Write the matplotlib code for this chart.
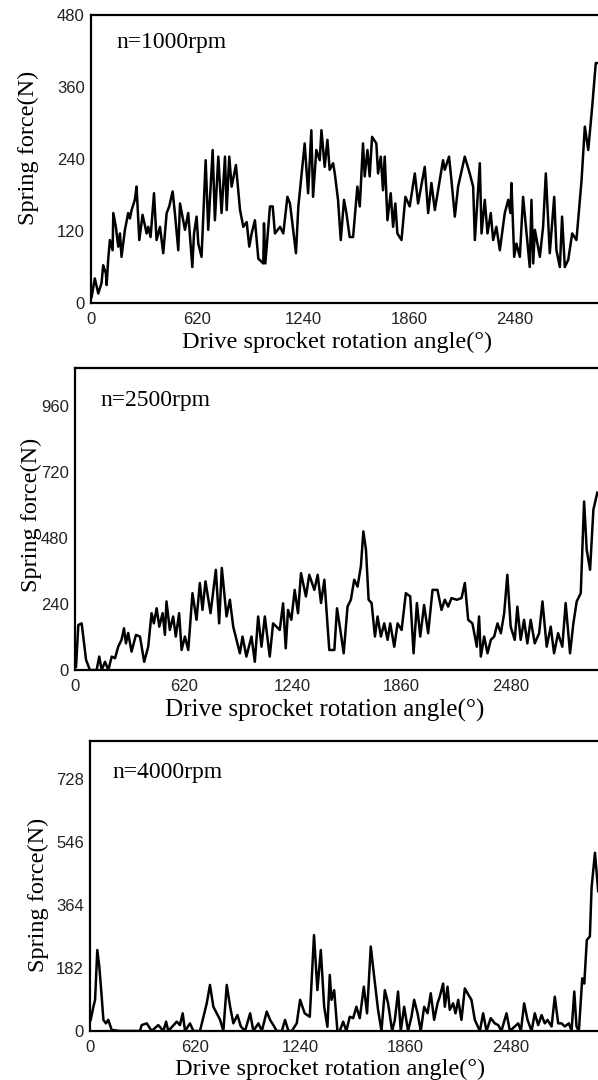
import matplotlib
matplotlib.use('Agg')
import matplotlib.pyplot as plt

# ---------------------------------------------------------------------------
# Data (angle in degrees, spring force in N)
# ---------------------------------------------------------------------------
angle_1000 = [4, 23, 43, 62, 72, 88, 92, 101, 111, 127, 131, 146, 160, 170, 179,
              199, 218, 228, 238, 257, 267, 283, 302, 326, 335, 349, 369, 384,
              404, 423, 443, 458, 478, 491, 511, 521, 550, 569, 593, 603, 618,
              628, 647, 671, 686, 712, 725, 745, 764, 784, 794, 809, 823, 848,
              872, 891, 911, 926, 940, 959, 979, 1008, 1012, 1020, 1047, 1063,
              1076, 1106, 1125, 1149, 1164, 1199, 1213, 1250, 1270, 1289, 1299,
              1318, 1338, 1348, 1367, 1383, 1396, 1416, 1426, 1445, 1461, 1480,
              1494, 1513, 1533, 1558, 1572, 1591, 1601, 1617, 1630, 1644, 1669,
              1679, 1695, 1708, 1718, 1734, 1753, 1767, 1780, 1792, 1816, 1839,
              1864, 1894, 1913, 1952, 1972, 1991, 2011, 2040, 2059, 2069, 2094,
              2108, 2128, 2147, 2186, 2215, 2235, 2245, 2274, 2284, 2303, 2319,
              2338, 2352, 2371, 2391, 2420, 2440, 2453, 2459, 2475, 2488, 2508,
              2527, 2566, 2576, 2586, 2596, 2625, 2644, 2660, 2683, 2709, 2722,
              2742, 2755, 2771, 2791, 2814, 2839, 2869, 2888, 2908, 2931, 2952,
              2966]
force_1000 = [10, 41, 16, 33, 63, 49, 30, 72, 105, 88, 150, 127, 94, 116, 77,
              122, 150, 141, 155, 172, 194, 105, 147, 116, 127, 110, 183, 105,
              127, 83, 150, 161, 186, 150, 88, 166, 122, 150, 60, 116, 144,
              99, 77, 238, 122, 255, 138, 244, 150, 244, 155, 244, 194, 230,
              155, 127, 135, 94, 116, 138, 74, 66, 133, 66, 161, 161,
              116, 127, 116, 177, 166, 83, 161, 266, 183, 288, 177,
              255, 238, 288, 227, 272, 222, 233, 216, 172, 105, 172,
              150, 110, 110, 194, 161, 266, 211, 255, 211, 277, 266,
              216, 244, 188, 244, 138, 183, 127, 166, 116, 105, 177,
              161, 216, 166, 227, 150, 200, 155, 205, 238, 222, 244,
              205, 144, 194, 244, 216, 194, 105, 233, 116, 172, 116,
              150, 105, 127, 88, 150, 172, 150, 200, 77, 99, 77,
              177, 60, 172, 66, 122, 77, 127, 216, 83, 177, 88,
              60, 144, 60, 72, 116, 105, 205, 294, 255, 327, 400,
              400]

angle_2500 = [6, 19, 38, 63, 85, 123, 138, 152, 171, 190, 209, 228, 246, 265,
              279, 290, 303, 322, 347, 370, 394, 417, 436, 449, 465, 480, 499,
              512, 521, 540, 559, 574, 593, 607, 626, 645, 669, 692, 711, 726,
              743, 772, 802, 821, 836, 863, 882, 901, 920, 939, 954, 976, 1005,
              1024, 1043, 1062, 1081, 1109, 1128, 1166, 1185, 1200, 1213, 1232,
              1251, 1270, 1287, 1315, 1334, 1363, 1382, 1401, 1420, 1448, 1477,
              1492, 1511, 1530, 1552, 1571, 1590, 1609, 1628, 1642, 1657, 1672,
              1689, 1708, 1723, 1742, 1761, 1780, 1795, 1818, 1837, 1860, 1884,
              1909, 1928, 1947, 1966, 1988, 2011, 2036, 2064, 2087, 2106, 2125,
              2144, 2174, 2201, 2220, 2239, 2263, 2288, 2301, 2311, 2330, 2349,
              2368, 2387, 2406, 2425, 2444, 2462, 2481, 2504, 2519, 2538, 2557,
              2576, 2595, 2618, 2643, 2662, 2686, 2709, 2728, 2751, 2775, 2794,
              2819, 2838, 2857, 2880, 2899, 2914, 2933, 2952, 2974]
force_2500 = [12, 164, 170, 37, 0, 0, 49, 0, 30, 0, 49, 43, 85, 110,
              152, 97, 135, 67, 128, 122, 30, 85, 207, 170, 225, 158, 207,
              128, 250, 146, 195, 122, 207, 73, 122, 73, 280, 183, 317, 219,
              323, 207, 365, 170, 372, 195, 256, 158, 110, 61, 122, 49, 122,
              30, 195, 85, 195, 49, 170, 146, 243, 79, 219, 183,
              292, 207, 353, 268, 347, 292, 347, 244, 329, 73, 73,
              225, 146, 61, 231, 256, 329, 304, 378, 505, 438, 256,
              244, 122, 195, 122, 170, 110, 170, 85, 170, 146, 280,
              268, 61, 244, 122, 237, 134, 292, 292, 219, 256, 231,
              262, 256, 262, 317, 183, 170, 85, 195, 49, 122, 61,
              110, 122, 170, 134, 207, 347, 158, 110, 231, 110, 183,
              97, 183, 97, 134, 250, 85, 158, 61, 134, 85, 244,
              61, 170, 250, 280, 614, 438, 365, 584, 646]

angle_4000 = [4, 20, 30, 43, 55, 69, 79, 94, 108, 128, 177, 216, 295, 305, 335,
              364, 403, 433, 449, 462, 512, 531, 547, 561, 590, 610, 649, 689,
              708, 728, 748, 768, 787, 807, 827, 846, 870, 890, 915, 945, 964,
              994, 1014, 1043, 1063, 1082, 1102, 1132, 1151, 1171, 1191, 1220,
              1240, 1267, 1297, 1322, 1342, 1362, 1382, 1401, 1415, 1425, 1441,
              1460, 1474, 1494, 1513, 1533, 1553, 1572, 1592, 1616, 1635, 1657,
              1677, 1700, 1720, 1740, 1759, 1783, 1799, 1818, 1834, 1854, 1877,
              1897, 1913, 1933, 1952, 1972, 1992, 2011, 2031, 2051, 2064, 2084,
              2094, 2110, 2123, 2143, 2157, 2173, 2192, 2212, 2228, 2251, 2271,
              2301, 2320, 2340, 2365, 2389, 2409, 2428, 2458, 2478, 2507, 2527,
              2543, 2562, 2582, 2606, 2625, 2645, 2665, 2684, 2700, 2724, 2743,
              2763, 2783, 2802, 2826, 2842, 2858, 2871, 2885, 2905, 2917, 2932,
              2950, 2960, 2980, 2999]
force_4000 = [32, 70, 90, 234, 186, 99, 32, 22, 32, 3, 0, 0, 0, 17, 22,
              0, 17, 0, 27, 0, 27, 17, 51, 0, 22, 0, 0, 80,
              133, 70, 51, 32, 0, 133, 70, 22, 46, 13, 0, 51, 0,
              22, 0, 56, 32, 17, 0, 0, 32, 0, 0, 22,
              90, 51, 41, 277, 118, 234, 70, 12, 162, 90, 118,
              0, 0, 27, 0, 41, 37, 70, 37, 128, 51, 244,
              157, 61, 0, 118, 80, 0, 32, 114, 0, 70, 0,
              41, 90, 51, 0, 70, 51, 109, 32, 80, 99, 137,
              70, 128, 61, 80, 51, 90, 32, 123, 109, 90, 32,
              0, 51, 0, 37, 22, 17, 0, 51, 0, 13, 22,
              0, 80, 32, 0, 51, 17, 46, 22, 32, 13, 99,
              22, 22, 13, 22, 0, 114, 13, 0, 152, 137, 263,
              273, 414, 515, 404]

x_ticks = [0, 620, 1240, 1860, 2480]
speed_labels = ['n=1000rpm', 'n=2500rpm', 'n=4000rpm']

SERIF = 'Liberation Serif'
SANS = 'Liberation Sans'


def draw_panel(fig, rect, angle, force, label, ylim, yticks, xmax,
               xlabel_pos, ylabel_pos, note_pos, xlabel_size=17.5):
    ax = fig.add_axes(rect)
    ax.plot(angle, force, color='black', linewidth=1.8)
    ax.set_xlim(0, xmax)
    ax.set_ylim(*ylim)
    ax.set_xticks(x_ticks)
    ax.set_yticks(yticks)
    ax.tick_params(length=0, labelsize=12, labelcolor='#222222')
    ax.tick_params(axis='y', pad=4.5)
    ax.tick_params(axis='x', pad=6.5)
    for t in ax.get_xticklabels() + ax.get_yticklabels():
        t.set_fontfamily(SANS)
    for side in ('left', 'top', 'bottom'):
        ax.spines[side].set_linewidth(1.6)
    ax.spines['right'].set_visible(False)
    ax.set_xlabel('Drive sprocket rotation angle(°)', family=[SERIF, 'DejaVu Serif'],
                  fontsize=xlabel_size)
    ax.xaxis.set_label_coords(*xlabel_pos)
    ax.set_ylabel('Spring force(N)', family=SERIF, fontsize=17.5)
    ax.yaxis.set_label_coords(*ylabel_pos)
    ax.text(note_pos[0], note_pos[1], label, transform=ax.transAxes,
            family=SERIF, fontsize=17, va='center', ha='left')
    return ax


fig = plt.figure(figsize=(5.98, 10.8), dpi=100)

draw_panel(fig, [0.152, 0.7194, 0.858, 0.2667], angle_1000, force_1000,
           speed_labels[0], (0, 480), [0, 120, 240, 360, 480], 3000,
           (0.48, -0.099), (-0.102, 0.54), (0.05, 0.903))
draw_panel(fig, [0.1254, 0.3796, 0.881, 0.2796], angle_2500, force_2500,
           speed_labels[1], (0, 1100), [0, 240, 480, 720, 960], 3000,
           (0.474, -0.095), (-0.063, 0.513), (0.049, 0.894), xlabel_size=18)
draw_panel(fig, [0.1505, 0.0454, 0.86, 0.2685], angle_4000, force_4000,
           speed_labels[2], (0, 838), [0, 182, 364, 546, 728], 3035,
           (0.467, -0.096), (-0.080, 0.469), (0.043, 0.893))

fig.savefig('out.png', dpi=100)
